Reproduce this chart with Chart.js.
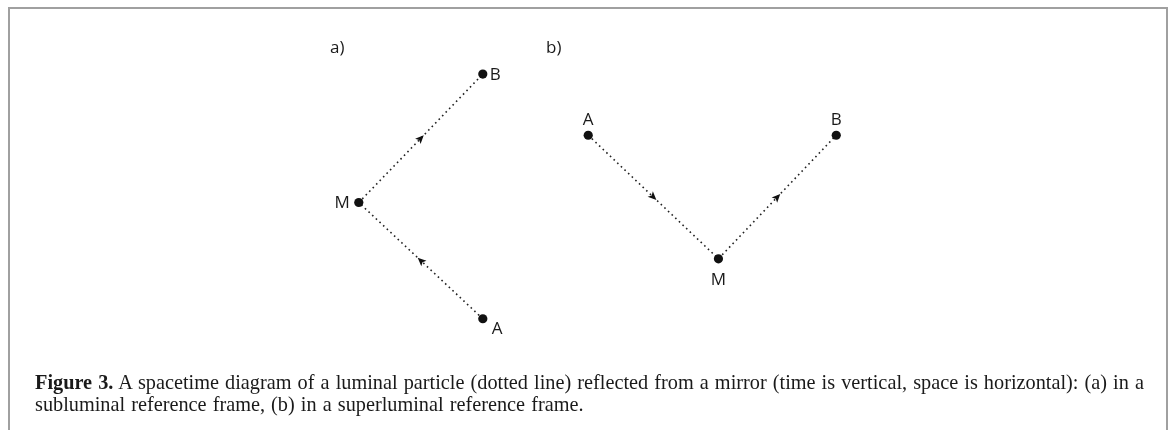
<!DOCTYPE html>
<html>
<head>
<meta charset="utf-8">
<script src="https://cdn.jsdelivr.net/npm/chart.js@4.4.1/dist/chart.umd.min.js"></script>
<style>
  html, body { margin: 0; padding: 0; background: #fff; }
  #page { position: relative; width: 1168px; height: 430px; overflow: hidden; }
  #frame { position: absolute; left: 8px; top: 7px; width: 1156px; height: 440px;
           border-left: 2px solid #a0a0a0; border-top: 2px solid #a0a0a0; border-right: 2px solid #a0a0a0; }
  #wrap { position: absolute; left: 0; top: 0; width: 1168px; height: 430px; }
  .ptitle { position: absolute; font-family: "Open Sans", sans-serif; font-size: 17px; color: #1a1a1a; }
  #caption { position: absolute; left: 35px; top: 371px; width: 1125px; white-space: nowrap;
             font-family: "Liberation Serif", serif; font-size: 20.3px; line-height: 22px; color: #1a1a1a;
             word-spacing: 1px; }
  #caption b { font-weight: bold; }
</style>
</head>
<body>
<div id="page">
  <div id="frame"></div>
  <div id="wrap"><canvas id="c"></canvas></div>
  <div class="ptitle" style="left:330px; top:35px;">a)</div>
  <div class="ptitle" style="left:546px; top:35px;">b)</div>
  <div id="caption"><b>Figure 3.</b> A spacetime diagram of a luminal particle (dotted line) reflected from a mirror (time is vertical, space is horizontal): (a) in a<br>subluminal reference frame, (b) in a superluminal reference frame.</div>
</div>
<script>
// Event labels (worldline order A -> M -> B)
const eventLabels = ['A', 'M', 'B'];
// Panel (a): subluminal frame — space (x) and time (t) coordinates
const panelA_x = [1.0, 0.0, 1.0];
const panelA_t = [0.0, 0.95, 2.0];
// Panel (b): superluminal frame
const panelB_x = [1.85, 2.9, 3.85];
const panelB_t = [1.5, 0.49, 1.5];

const toPts = (xs, ts) => xs.map((x, i) => ({ x: x, y: ts[i] }));

// label placement styles (pixel offsets, alignment)
const labelStyleA = [
  { dx: 9, dy: 10, align: 'left' },
  { dx: -9, dy: 1, align: 'right' },
  { dx: 7, dy: 1, align: 'left' }
];
const labelStyleB = [
  { dx: 0, dy: -15, align: 'center' },
  { dx: 0, dy: 21, align: 'center' },
  { dx: 0, dy: -15, align: 'center' }
];

const arrowPlugin = {
  id: 'arrows',
  afterDatasetsDraw(chart) {
    const ctx = chart.ctx;
    const xs = chart.scales.x, ys = chart.scales.y;
    chart.data.datasets.forEach(ds => {
      const pts = ds.data;
      ctx.save();
      ctx.fillStyle = '#111';
      for (let i = 0; i < pts.length - 1; i++) {
        const x0 = xs.getPixelForValue(pts[i].x), y0 = ys.getPixelForValue(pts[i].y);
        const x1 = xs.getPixelForValue(pts[i + 1].x), y1 = ys.getPixelForValue(pts[i + 1].y);
        const mx = (x0 + x1) / 2, my = (y0 + y1) / 2;
        const ang = Math.atan2(y1 - y0, x1 - x0);
        const L = 8.5, W = 3.8;
        ctx.save();
        ctx.translate(mx, my);
        ctx.rotate(ang);
        ctx.beginPath();
        ctx.moveTo(L / 2, 0);
        ctx.lineTo(-L / 2, -W);
        ctx.lineTo(-L / 2 + 2, 0);
        ctx.lineTo(-L / 2, W);
        ctx.closePath();
        ctx.fill();
        ctx.restore();
      }
      // labels
      ctx.font = '17px "Open Sans", sans-serif';
      ctx.textBaseline = 'middle';
      ctx.fillStyle = '#1a1a1a';
      pts.forEach((p, i) => {
        const st = ds.labelStyle[i];
        ctx.textAlign = st.align;
        ctx.fillText(eventLabels[i], xs.getPixelForValue(p.x) + st.dx, ys.getPixelForValue(p.y) + st.dy);
      });
      ctx.restore();
    });
  }
};

const lineStyle = {
  showLine: true,
  borderColor: '#222',
  borderWidth: 1.6,
  borderDash: [1.6, 3.4],
  pointRadius: 4.6,
  pointBackgroundColor: '#111',
  pointBorderColor: '#111',
  pointBorderWidth: 0,
  fill: false,
  tension: 0
};

new Chart(document.getElementById('c'), {
  type: 'scatter',
  data: {
    datasets: [
      Object.assign({ label: 'a', data: toPts(panelA_x, panelA_t), labelStyle: labelStyleA }, lineStyle),
      Object.assign({ label: 'b', data: toPts(panelB_x, panelB_t), labelStyle: labelStyleB }, lineStyle)
    ]
  },
  options: {
    responsive: true,
    maintainAspectRatio: false,
    animation: false,
    layout: { padding: 0 },
    plugins: { legend: { display: false }, tooltip: { enabled: false } },
    scales: {
      x: { type: 'linear', min: -2.856, max: 6.488, display: false },
      y: { type: 'linear', min: -0.872, max: 2.568, display: false }
    }
  },
  plugins: [arrowPlugin]
});
</script>
</body>
</html>
